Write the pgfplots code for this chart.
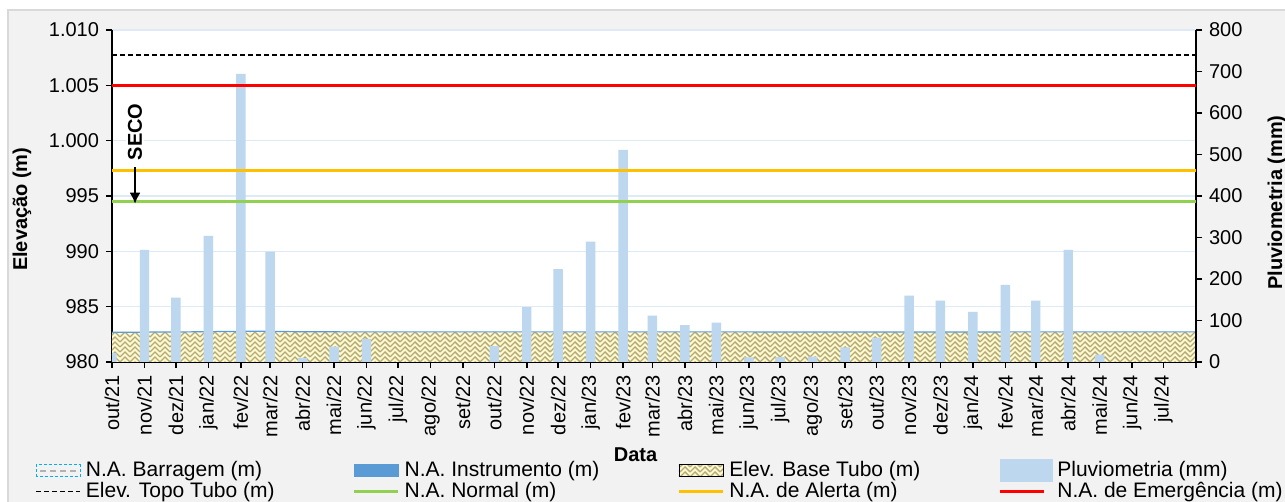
\documentclass[border=0pt]{standalone}
\usepackage{fontspec}
\setmainfont{Liberation Sans}
\usepackage{pgfplots}
\usepackage{pgfplotstable}
\pgfplotsset{compat=1.18}
\usetikzlibrary{patterns,arrows.meta}

\definecolor{bgchart}{HTML}{F2F2F2}
\definecolor{bordchart}{HTML}{D9D9D9}
\definecolor{gridc}{HTML}{DEEBF7}
\definecolor{pluvio}{HTML}{BDD7EE}
\definecolor{instr}{HTML}{5B9BD5}
\definecolor{barrag}{HTML}{00B0F0}
\definecolor{hatchbg}{HTML}{FFF9D2}
\definecolor{hatchfg}{HTML}{B3AA74}
\definecolor{normal}{HTML}{92D050}
\definecolor{alerta}{HTML}{FFC000}
\definecolor{emerg}{HTML}{FF0000}

\pgfdeclarepatternformonly{weave}{\pgfqpoint{-1pt}{-1pt}}{\pgfqpoint{6pt}{6pt}}{\pgfqpoint{5pt}{5pt}}{
  \pgfsetlinewidth{0.7pt}
  \pgfpathmoveto{\pgfqpoint{0pt}{0pt}}
  \pgfpathlineto{\pgfqpoint{2.5pt}{2.5pt}}
  \pgfpathlineto{\pgfqpoint{5pt}{0pt}}
  \pgfpathmoveto{\pgfqpoint{0pt}{2.5pt}}
  \pgfpathlineto{\pgfqpoint{2.5pt}{5pt}}
  \pgfpathlineto{\pgfqpoint{5pt}{2.5pt}}
  \pgfusepath{stroke}
}

% pluviometria mensal (dias desde 01/10/2021, mm)
\pgfplotstableread{
dia mm
0   22
31  270
61  155
92  304
123 694
151 266
182 10
212 37
243 56
365 38
396 132
426 224
457 290
488 511
516 112
547 89
577 95
608 11
638 12
669 13
700 35
730 59
761 160
791 148
822 121
853 186
882 148
913 270
943 18
}\pluvtab

% N.A. instrumento (m)
\pgfplotstableread{
dia na
0    982.68
31   982.70
61   982.71
92   982.74
123  982.77
151  982.77
182  982.73
243  982.72
365  982.72
488  982.72
608  982.72
730  982.71
853  982.72
1035 982.72
}\instab

% niveis de referencia (m)
\pgfplotstableread{
dia base topo emerg alerta normal
0    982.65 1007.74 1005.0 997.27 994.5
1035 982.65 1007.74 1005.0 997.27 994.5
}\niveis

\pgfplotsset{
  base/.style={
    scale only axis, width=542pt, height=166pt,
    xmin=0, xmax=1035,
    tick label style={font=\fontsize{10}{12}\selectfont},
    label style={font=\bfseries\fontsize{10}{12}\selectfont},
    /pgf/number format/assume math mode=true,
    /pgf/number format/1000 sep={.},
    scaled y ticks=false,
  },
}

\begin{document}
\begin{tikzpicture}
\useasboundingbox (-56pt,-70pt) rectangle (586.5pt,181pt);
\fill[bgchart] (-52pt,-80pt) rectangle (600pt,176pt);
\draw[bordchart, line width=0.75pt] (-52pt,-80pt) rectangle (600pt,176pt);

% eixo esquerdo: grade, base do tubo e N.A. instrumento
\begin{axis}[base,
    ymin=980, ymax=1010,
    ytick={980,985,...,1010},
    axis y line*=left, axis x line*=bottom,
    tick align=outside, major tick length=3pt,
    axis line style={line width=0.75pt},
    every tick/.style={black, line width=0.75pt},
    axis background/.style={fill=white},
    ymajorgrids, grid style={gridc, line width=0.7pt},
    xtick={0,31,61,92,123,151,182,212,243,273,304,335,365,396,426,457,488,516,547,577,608,638,669,700,730,761,791,822,853,882,913,943,974,1004,1035},
    xticklabels={out/21,nov/21,dez/21,jan/22,fev/22,mar/22,abr/22,mai/22,jun/22,jul/22,ago/22,set/22,out/22,nov/22,dez/22,jan/23,fev/23,mar/23,abr/23,mai/23,jun/23,jul/23,ago/23,set/23,out/23,nov/23,dez/23,jan/24,fev/24,mar/24,abr/24,mai/24,jun/24,jul/24,{}},
    xticklabel style={rotate=90, anchor=east},
    xlabel={Data},
    xlabel style={at={(axis description cs:0.483,-0.28)}, anchor=center},
    ylabel={Elevação (m)},
    ylabel style={at={(axis description cs:-0.083,0.46)}, anchor=center},
  ]
  \addplot[draw=none, fill=hatchbg, postaction={pattern=weave, pattern color=hatchfg}]
    table[x=dia, y=base] {\niveis} \closedcycle;
  \addplot[instr, line width=0.6pt] table[x=dia, y=na] {\instab};
\end{axis}

% eixo direito: pluviometria
\begin{axis}[base,
    ymin=0, ymax=800,
    ytick={0,100,...,800},
    axis y line*=right, hide x axis,
    tick align=outside, major tick length=3pt,
    axis line style={line width=0.75pt},
    every tick/.style={black, line width=0.75pt},
    ylabel={Pluviometria (mm)},
    ylabel style={at={(axis description cs:1.0747,0.48)}, anchor=center},
    ybar, bar width=9,
  ]
  \addplot[fill=pluvio, draw=none] table[x=dia, y=mm] {\pluvtab};
\end{axis}

% niveis, anotacao e legenda
\begin{axis}[base,
    ymin=980, ymax=1010,
    hide axis,
    legend columns=4,
    legend style={at={(axis description cs:-0.071,-0.292)}, anchor=north west,
      draw=none, fill=none, inner sep=0pt,
      font=\fontsize{10.5}{12}\selectfont,
      nodes={inner sep=1pt, anchor=west},
      /tikz/every odd column/.append style={column sep=1.5pt},
      /tikz/every even column/.append style={column sep=38pt},
      row sep=-1pt},
  ]
  \addlegendimage{legend image code/.code={
    \draw[barrag, line width=0.6pt, dash pattern=on 1.5pt off 1pt] (0pt,-3pt) rectangle (22pt,3pt);
    \draw[gray!60, line width=1.2pt, dash pattern=on 3pt off 2pt] (2pt,0pt) -- (21pt,0pt);}}
  \addlegendimage{legend image code/.code={\fill[instr] (0pt,-3pt) rectangle (22pt,3pt);}}
  \addlegendimage{legend image code/.code={
    \fill[hatchbg] (0pt,-3pt) rectangle (22pt,3pt);
    \fill[pattern=weave, pattern color=hatchfg] (0pt,-3pt) rectangle (22pt,3pt);}}
  \addlegendimage{legend image code/.code={\fill[pluvio] (0pt,-5.5pt) rectangle (26pt,5.5pt);}}
  \addlegendimage{legend image code/.code={\draw[black, line width=0.75pt, dash pattern=on 2.5pt off 1.5pt] (0pt,0pt) -- (22pt,0pt);}}
  \addlegendimage{legend image code/.code={\draw[normal, line width=1.5pt] (0pt,0pt) -- (22pt,0pt);}}
  \addlegendimage{legend image code/.code={\draw[alerta, line width=1.5pt] (0pt,0pt) -- (22pt,0pt);}}
  \addlegendimage{legend image code/.code={\draw[emerg, line width=1.5pt] (0pt,0pt) -- (22pt,0pt);}}

  \addplot[black, line width=0.75pt, dash pattern=on 2.5pt off 1.5pt, forget plot] table[x=dia, y=topo] {\niveis};
  \addplot[emerg, line width=1.5pt, forget plot] table[x=dia, y=emerg] {\niveis};
  \addplot[alerta, line width=1.5pt, forget plot] table[x=dia, y=alerta] {\niveis};
  \addplot[normal, line width=1.5pt, forget plot] table[x=dia, y=normal] {\niveis};

  \node[rotate=90, font=\bfseries\fontsize{10}{12}\selectfont, fill=white, inner sep=1pt]
    at (axis cs:22,1000.8) {SECO};
  \draw[-{Latex[length=5.5pt,width=5.5pt]}, line width=1.2pt]
    (axis cs:22,997.6) -- (axis cs:22,994.3);

  \legend{N.A. Barragem (m),N.A. Instrumento (m),Elev. Base Tubo (m),Pluviometria (mm),
    Elev. Topo Tubo (m),N.A. Normal (m),N.A. de Alerta (m),N.A. de Emergência (m)}
\end{axis}
\end{tikzpicture}
\end{document}
